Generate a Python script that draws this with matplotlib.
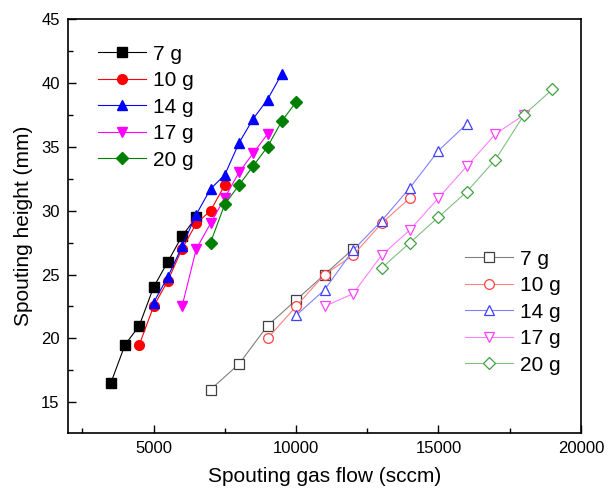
import matplotlib
matplotlib.use('Agg')
import matplotlib.pyplot as plt
from matplotlib.ticker import MultipleLocator

plt.rcParams['font.family'] = ['Liberation Sans', 'DejaVu Sans']

labels = ['7 g', '10 g', '14 g', '17 g', '20 g']

# 第一组 (实心)
flow_a = {
    '7 g': [3500, 4000, 4500, 5000, 5500, 6000, 6500],
    '10 g': [4500, 5000, 5500, 6000, 6500, 7000, 7500],
    '14 g': [5000, 5500, 6000, 6500, 7000, 7500, 8000, 8500, 9000, 9500],
    '17 g': [6000, 6500, 7000, 7500, 8000, 8500, 9000],
    '20 g': [7000, 7500, 8000, 8500, 9000, 9500, 10000],
}
height_a = {
    '7 g': [16.5, 19.5, 21, 24, 26, 28, 29.5],
    '10 g': [19.5, 22.5, 24.5, 27, 29, 30, 32],
    '14 g': [22.8, 24.8, 27.2, 29.7, 31.7, 32.8, 35.3, 37.2, 38.7, 40.7],
    '17 g': [22.5, 27, 29, 31, 33, 34.5, 36],
    '20 g': [27.5, 30.5, 32, 33.5, 35, 37, 38.5],
}

# 第二组 (空心)
flow_b = {
    '7 g': [7000, 8000, 9000, 10000, 11000, 12000],
    '10 g': [9000, 10000, 11000, 12000, 13000, 14000],
    '14 g': [10000, 11000, 12000, 13000, 14000, 15000, 16000],
    '17 g': [11000, 12000, 13000, 14000, 15000, 16000, 17000, 18000],
    '20 g': [13000, 14000, 15000, 16000, 17000, 18000, 19000],
}
height_b = {
    '7 g': [16, 18, 21, 23, 25, 27],
    '10 g': [20, 22.5, 25, 26.5, 29, 31],
    '14 g': [21.8, 23.8, 26.9, 29.2, 31.8, 34.7, 36.8],
    '17 g': [22.5, 23.5, 26.5, 28.5, 31, 33.5, 36, 37.5],
    '20 g': [25.5, 27.5, 29.5, 31.5, 34, 37.5, 39.5],
}

colors = ['#000000', '#ff0000', '#0000ff', '#ff00ff', '#008000']
light = ['#808080', '#ff8080', '#8080ff', '#ff80ff', '#80bf80']
edge = ['#404040', '#ff4040', '#4040ff', '#ff40ff', '#40a040']
markers = ['s', 'o', '^', 'v', 'D']
msize = [6.5, 7, 7.5, 7.5, 6]

fig = plt.figure(figsize=(6.15, 4.94), dpi=100)
ax = fig.add_axes([0.1106, 0.1235, 0.8341, 0.838])

h1 = []
h2 = []
for i, k in enumerate(labels):
    l, = ax.plot(flow_a[k], height_a[k], color=colors[i], marker=markers[i],
                 markersize=msize[i], linewidth=0.8, label=k)
    h1.append(l)
for i, k in enumerate(labels):
    l, = ax.plot(flow_b[k], height_b[k], color=light[i], marker=markers[i],
                 markersize=msize[i], markerfacecolor='white', markeredgecolor=edge[i],
                 markeredgewidth=0.9, linewidth=0.8, label=k)
    h2.append(l)

ax.set_xlim(2000, 20000)
ax.set_ylim(12.6, 45)
ax.xaxis.set_major_locator(MultipleLocator(5000))
ax.xaxis.set_minor_locator(MultipleLocator(2500))
ax.yaxis.set_major_locator(MultipleLocator(5))
ax.yaxis.set_minor_locator(MultipleLocator(2.5))
ax.set_xticks([5000, 10000, 15000, 20000])
ax.tick_params(which='both', direction='in', top=False, right=False, labelsize=12)
ax.tick_params(which='major', length=6, width=1, pad=6)
ax.tick_params(which='minor', length=3.5, width=1)
for s in ax.spines.values():
    s.set_linewidth(1.2)

ax.set_xlabel('Spouting gas flow (sccm)', fontsize=15, labelpad=8)
ax.set_ylabel('Spouting height (mm)', fontsize=15, labelpad=6)

leg1 = ax.legend(handles=h1, loc='upper left', bbox_to_anchor=(0.058, 0.938),
                 frameon=False, fontsize=15, handlelength=2.3, handletextpad=0.35,
                 labelspacing=0.36, borderpad=0, borderaxespad=0)
ax.add_artist(leg1)
ax.legend(handles=h2, loc='upper left', bbox_to_anchor=(0.774, 0.443),
          frameon=False, fontsize=15, handlelength=2.3, handletextpad=0.35,
          labelspacing=0.36, borderpad=0, borderaxespad=0)

fig.savefig('out.png', dpi=100)
